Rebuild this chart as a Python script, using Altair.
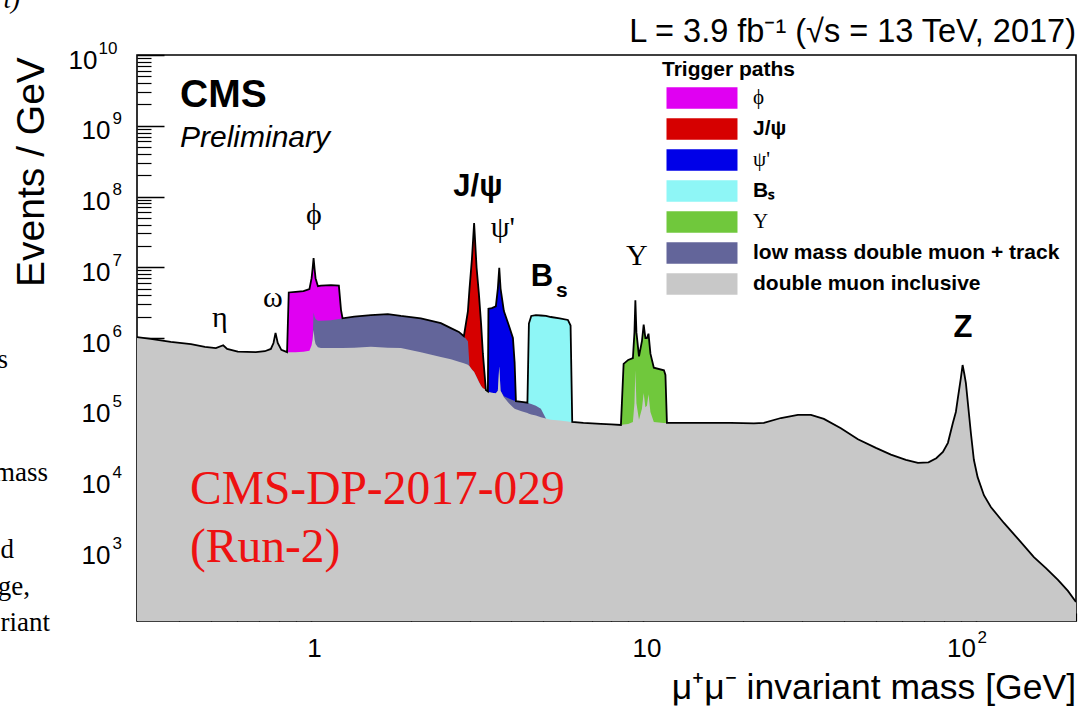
import altair as alt
import pandas as pd

# ---------------------------------------------------------------------------
# Dimuon invariant mass spectrum, split by trigger path
# ---------------------------------------------------------------------------

# Inclusive double-muon spectrum: mass [GeV] and events / GeV
mass = [
    0.30, 0.33, 0.379, 0.436, 0.48, 0.518, 0.545, 0.56, 0.603, 0.683, 0.727, 0.758, 0.772, 0.783, 0.795, 0.815,
    0.848, 0.858, 0.90, 0.95, 0.99, 1.005, 1.012, 1.019, 1.026, 1.033, 1.05, 1.072, 1.149, 1.214, 1.232, 1.245,
    1.35, 1.515, 1.704, 1.865, 2.142, 2.46, 2.637, 2.787,
    2.885, 2.967, 3.0, 3.05, 3.097, 3.15, 3.2, 3.25, 3.291, 3.36,
    3.407, 3.42, 3.5, 3.6, 3.65, 3.686, 3.72, 3.806, 3.94, 4.052, 4.10, 4.137,
    4.3, 4.48, 4.526, 4.6, 4.75, 4.917, 5.092,
    5.271, 5.6, 5.929, 6.04, 6.11,
    6.6, 7.45, 8.0,
    8.56, 8.72, 9.0, 9.3, 9.40, 9.46, 9.53, 9.70, 9.90, 10.02, 10.14, 10.25, 10.36, 10.5, 10.75, 11.53, 11.65, 11.77,
    14.89, 18.33, 21.5, 23.03, 25.92, 29.15, 31.91, 34.9, 39.26, 44.18, 50.03, 55.51, 61.58, 66.94, 72.0, 76.0,
    79.58, 82.39, 85.25, 87.04, 88.1, 90.1, 91.2, 92.3, 93.3, 95.3, 96.6, 98.6, 101.2,
    105.7, 110.9, 121.4, 134.7, 149.4, 162.4, 176.5, 189.1, 200.0,
]
inclusive = [
    1.03e6, 9.7e5, 8.8e5, 8.2e5, 7.5e5, 7.2e5, 7.9e5, 7.0e5, 6.4e5, 6.3e5, 6.5e5, 7.0e5, 8.5e5, 1.18e6, 8.5e5, 6.8e5,
    6.3e5, 6.3e5, 6.3e5, 6.4e5, 6.6e5, 7.9e5, 9.5e5, 1.3e6, 9.5e5, 8.2e5, 7.4e5, 7.2e5, 7.2e5, 7.2e5, 7.2e5, 7.2e5,
    7.3e5, 7.5e5, 7.3e5, 7.2e5, 6.3e5, 5.4e5, 5.0e5, 4.6e5,
    4.4e5, 4.2e5, 4.0e5, 3.6e5, 3.3e5, 2.8e5, 2.4e5, 2.1e5, 1.95e5, 1.84e5,
    1.75e5, 1.72e5, 1.68e5, 1.65e5, 1.8e5, 4.0e5, 1.8e5, 1.45e5, 1.2e5, 1.05e5, 1.0e5, 9.8e4,
    9.2e4, 8.7e4, 8.5e4, 8.3e4, 8.0e4, 7.6e4, 7.3e4,
    7.0e4, 6.8e4, 6.6e4, 6.5e4, 6.5e4,
    6.3e4, 6.1e4, 6.0e4,
    5.9e4, 6.0e4, 6.1e4, 6.5e4, 1.2e5, 3.5e5, 1.2e5, 7.0e4, 1.0e5, 1.67e5, 1.05e5, 1.1e5, 1.6e5, 9.0e4, 6.5e4, 6.3e4, 6.3e4, 6.3e4,
    6.3e4, 6.3e4, 6.2e4, 6.3e4, 7.4e4, 8.2e4, 8.2e4, 7.2e4, 5.3e4, 3.7e4, 2.8e4, 2.25e4, 1.9e4, 1.72e4, 1.75e4, 2.0e4,
    2.45e4, 3.3e4, 6.3e4, 9.0e4, 1.33e5, 2.7e5, 4.15e5, 3.1e5, 2.3e5, 8.5e4, 4.5e4, 1.9e4, 1.08e4,
    6.0e3, 4.08e3, 2.43e3, 1.4e3, 8.0e2, 5.6e2, 3.8e2, 2.66e2, 1.86e2,
]

# Dedicated trigger paths (mass points are a subset of the inclusive grid)
phi_mass = [0.848, 0.858, 0.90, 0.95, 0.99, 1.005, 1.012, 1.019, 1.026, 1.033, 1.05, 1.072, 1.149, 1.214, 1.232, 1.245]
phi_events = [6.3e5, 4.4e6, 4.5e6, 4.6e6, 4.9e6, 7.0e6, 9.5e6, 1.35e7, 9.5e6, 7.0e6, 5.4e6, 5.5e6, 5.6e6, 5.5e6, 2.5e6, 1.9e6]

jpsi_mass = [2.885, 2.967, 3.0, 3.05, 3.097, 3.15, 3.2, 3.25, 3.291, 3.36]
jpsi_events = [1.06e6, 2.4e6, 5.0e6, 1.3e7, 4.2e7, 1.0e7, 4.3e6, 1.6e6, 6.0e5, 1.84e5]

psi2s_mass = [3.407, 3.42, 3.5, 3.6, 3.65, 3.686, 3.72, 3.806, 3.94, 4.052, 4.10, 4.137]
psi2s_events = [1.75e5, 2.6e6, 2.65e6, 2.8e6, 5.0e6, 9.8e6, 5.0e6, 2.4e6, 1.5e6, 1.0e6, 4.5e5, 1.28e5]

bs_mass = [4.48, 4.526, 4.6, 4.75, 4.917, 5.092, 5.271, 5.6, 5.929, 6.04, 6.11]
bs_events = [1.22e5, 1.6e6, 2.05e6, 2.1e6, 2.08e6, 2.05e6, 1.98e6, 1.9e6, 1.8e6, 1.5e6, 6.5e4]

upsilon_mass = [8.56, 8.72, 9.0, 9.3, 9.40, 9.46, 9.53, 9.70, 9.90, 10.02, 10.14, 10.25, 10.36, 10.5, 10.75, 11.53, 11.65, 11.77]
upsilon_events = [5.9e4, 4.3e5, 4.9e5, 5.2e5, 1.2e6, 3.4e6, 1.2e6, 5.5e5, 9.0e5, 1.55e6, 1.0e6, 1.0e6, 1.15e6, 6.0e5, 3.8e5, 3.5e5, 3.0e5, 6.3e4]

track_mass = [
    1.012, 1.019, 1.026, 1.033, 1.05, 1.072, 1.149, 1.214, 1.232, 1.245,
    1.35, 1.515, 1.704, 1.865, 2.142, 2.46, 2.637, 2.787, 2.885, 2.967,
    3.0, 3.05, 3.097, 3.15, 3.2, 3.25, 3.291, 3.36, 3.407, 3.42,
    3.5, 3.6, 3.65, 3.686, 3.72, 3.806, 3.94, 4.052, 4.10, 4.137,
    4.3, 4.48, 4.526, 4.6, 4.75, 4.917, 5.092,
]
track_events = [
    9.5e5, 2.3e6, 2.0e6, 1.85e6, 1.75e6, 1.75e6, 1.78e6, 1.85e6, 1.88e6, 1.9e6,
    2.0e6, 2.1e6, 2.18e6, 2.05e6, 1.9e6, 1.62e6, 1.38e6, 1.22e6, 1.06e6, 9.0e5,
    4.0e5, 3.6e5, 3.3e5, 2.8e5, 2.4e5, 2.1e5, 1.95e5, 1.84e5, 1.75e5, 1.72e5,
    1.68e5, 1.65e5, 1.8e5, 4.0e5, 1.8e5, 1.5e5, 1.4e5, 1.32e5, 1.3e5, 1.28e5,
    1.25e5, 1.22e5, 1.2e5, 1.17e5, 1.1e5, 1.0e5, 7.3e4,
]

# Legend entries, in drawing order (back to front)
path_names = ["ϕ", "J/ψ", "ψ'", "Bₛ", "Υ", "low mass double muon + track", "double muon inclusive"]
path_colors = ["#e000f2", "#d60000", "#0000e8", "#8ef6f6", "#70c83c", "#63659a", "#c8c8c8"]
path_data = [
    (phi_mass, phi_events),
    (jpsi_mass, jpsi_events),
    (psi2s_mass, psi2s_events),
    (bs_mass, bs_events),
    (upsilon_mass, upsilon_events),
    (track_mass, track_events),
    (mass, inclusive),
]

# Resonance labels placed in data coordinates
serif_names = ["η", "ω", "ϕ", "ψ'", "Υ"]
serif_mass = [0.532, 0.769, 1.021, 3.78, 9.56]
serif_events = [1.92e6, 3.68e6, 5.48e7, 3.59e7, 1.44e7]
bold_names = ["J/ψ", "B", "Z"]
bold_mass = [3.179, 4.95, 91.4]
bold_events = [1.36e8, 7.28e6, 1.38e6]
sub_names = ["s"]
sub_mass = [5.69]
sub_events = [4.62e6]

# Axis tick positions
y_major = [1e3, 1e4, 1e5, 1e6, 1e7, 1e8, 1e9, 1e10]
y_minor = [k * 10 ** e for e in range(2, 10) for k in range(2, 10)]
x_major = [1, 10, 100]
x_minor = [0.3, 0.4, 0.5, 0.6, 0.7, 0.8, 0.9, 2, 3, 4, 5, 6, 7, 8, 9,
           20, 30, 40, 50, 60, 70, 80, 90, 200]

# ---------------------------------------------------------------------------
SANS = "Liberation Sans"
SERIF = "Liberation Serif"
FLOOR = 100

x_scale = alt.Scale(type="log", domain=[0.3, 200], nice=False)
y_scale = alt.Scale(type="log", domain=[FLOOR, 1e10], nice=False)
color_scale = alt.Scale(domain=path_names, range=path_colors)

# Greek-letter entries use a plain serif face, the rest bold sans
greek_test = "datum.value == 'ϕ' || datum.value == 'Υ' || datum.value == \"ψ'\""
legend = alt.Legend(
    title="Trigger paths", orient="none", legendX=525, legendY=4, padding=0,
    titleFont=SANS, titleFontSize=21, titleFontWeight="bold", titleColor="black", titlePadding=6,
    labelFont={"expr": f"({greek_test}) ? '{SERIF}' : '{SANS}'"},
    labelFontWeight={"expr": f"({greek_test}) ? 'normal' : 'bold'"},
    labelFontSize=21, labelColor="black", labelLimit=500,
    # wide swatch: 71 x 21 px drawn from a unit-size of ~23.7 px
    symbolType="M-3,-0.9H3V0.9H-3Z", symbolSize=560, symbolStrokeWidth=0,
    symbolOpacity=1, symbolOffset=28, labelOffset=39, rowPadding=8,
)

ax_y_major = alt.Axis(
    orient="left", values=y_major, offset=-27, tickSize=27, tickWidth=1.5, tickColor="black",
    domain=False, grid=False, title=None, labelExpr="'10'",
    labelFont=SANS, labelFontSize=26, labelColor="black", labelAlign="right", labelBaseline="middle",
    labelOffset=5, labelPadding={"condition": {"test": "datum.value > 5e9", "value": 40}, "value": 27},
    labelOverlap=False, labelFlush=False, labelBound=False,
)
ax_y_minor = alt.Axis(
    orient="left", values=y_minor, offset=-14, tickSize=14, tickWidth=1.2, tickColor="black",
    domain=False, grid=False, title=None, labels=False,
)
ax_y_exp = alt.Axis(
    orient="left", values=y_major, ticks=False, tickSize=0, domain=False, grid=False, title=None,
    labelExpr="'' + round(log(datum.value) / LN10)",
    labelFont=SANS, labelFontSize=17, labelColor="black", labelAlign="left", labelBaseline="middle",
    labelOffset=-7, labelPadding={"condition": {"test": "datum.value > 5e9", "value": 39}, "value": 25},
    labelOverlap=False, labelFlush=False, labelBound=False,
)
ax_x_major = alt.Axis(
    orient="bottom", values=x_major, offset=-17, tickSize=17, tickWidth=1.5, tickColor="black",
    domain=False, grid=False, title=None, labelExpr="datum.value < 5 ? '1' : '10'",
    labelFont=SANS, labelFontSize=26, labelColor="black", labelAlign="center", labelBaseline="top",
    labelPadding=14, labelOffset={"condition": {"test": "datum.value > 50", "value": -15}, "value": 3},
    labelOverlap=False, labelFlush=False, labelBound=False,
)
ax_x_minor = alt.Axis(
    orient="bottom", values=x_minor, offset=-8, tickSize=8, tickWidth=1.2, tickColor="black",
    domain=False, grid=False, title=None, labels=False,
)
ax_x_exp = alt.Axis(
    orient="bottom", values=[100], ticks=False, tickSize=0, domain=False, grid=False, title=None,
    labelExpr="'2'", labelFont=SANS, labelFontSize=17, labelColor="black", labelAlign="left",
    labelBaseline="top", labelPadding=8, labelOffset=1,
    labelOverlap=False, labelFlush=False, labelBound=False,
)

layers = []

# Filled trigger-path areas, each from the floor of the plot
for name, (m, v) in zip(path_names, path_data):
    df = pd.DataFrame({"mass": m, "events": v, "path": name})
    is_incl = name == "double muon inclusive"
    layers.append(
        alt.Chart(df).mark_area(clip=True, opacity=1).encode(
            x=alt.X("mass:Q", scale=x_scale, axis=ax_x_major if is_incl else None),
            y=alt.Y("events:Q", scale=y_scale, axis=ax_y_major if is_incl else None),
            y2=alt.datum(FLOOR),
            color=alt.Color("path:N", scale=color_scale, legend=legend),
        )
    )

# Black outline along the upper envelope of all paths
long = pd.concat(
    [pd.DataFrame({"mass": m, "events": v}) for m, v in path_data], ignore_index=True
)
envelope = long.groupby("mass", as_index=False)["events"].max().sort_values("mass")
layers.append(
    alt.Chart(envelope).mark_line(clip=True, color="black", strokeWidth=1.8).encode(
        x=alt.X("mass:Q", scale=x_scale, axis=ax_x_minor),
        y=alt.Y("events:Q", scale=y_scale, axis=ax_y_minor),
    )
)

# Resonance labels
layers.append(
    alt.Chart(pd.DataFrame({"mass": serif_mass, "events": serif_events, "label": serif_names}))
    .mark_text(font=SERIF, fontSize=30, color="black", align="center", baseline="middle")
    .encode(
        x=alt.X("mass:Q", scale=x_scale, axis=ax_x_exp),
        y=alt.Y("events:Q", scale=y_scale, axis=ax_y_exp),
        text="label:N",
    )
)
layers.append(
    alt.Chart(pd.DataFrame({"mass": bold_mass, "events": bold_events, "label": bold_names}))
    .mark_text(font=SANS, fontSize=31, fontWeight="bold", color="black", align="center", baseline="middle")
    .encode(
        x=alt.X("mass:Q", scale=x_scale, axis=None),
        y=alt.Y("events:Q", scale=y_scale, axis=None),
        text="label:N",
    )
)
layers.append(
    alt.Chart(pd.DataFrame({"mass": sub_mass, "events": sub_events, "label": sub_names}))
    .mark_text(font=SANS, fontSize=21, fontWeight="bold", color="black", align="center", baseline="middle")
    .encode(
        x=alt.X("mass:Q", scale=x_scale, axis=None),
        y=alt.Y("events:Q", scale=y_scale, axis=None),
        text="label:N",
    )
)


def note(text, x, y, **style):
    """Free-standing text placed in pixel space relative to the plot area."""
    return alt.Chart(pd.DataFrame({"t": [text]})).mark_text(**style).encode(
        x=alt.value(x), y=alt.value(y), text="t:N"
    )


layers += [
    note("CMS", 43, 40, font=SANS, fontSize=39, fontWeight="bold", align="left", baseline="middle", color="black"),
    note("Preliminary", 43, 83, font=SANS, fontSize=30, fontStyle="italic", align="left", baseline="middle", color="black"),
    note("L = 3.9 fb⁻¹ (√s = 13 TeV, 2017)", 939, -23, font=SANS, fontSize=32.5, align="right", baseline="middle", color="black"),
    note("Events / GeV", -105, 117, font=SANS, fontSize=39, angle=270, align="center", baseline="middle", color="black"),
    note("μ⁺μ⁻ invariant mass [GeV]", 939, 633, font=SANS, fontSize=35.5, align="right", baseline="middle", color="black"),
    note("CMS-DP-2017-029", 53, 435, font=SERIF, fontSize=47.5, align="left", baseline="middle", color="#ee1111"),
    note("(Run-2)", 53, 493, font=SERIF, fontSize=47.5, align="left", baseline="middle", color="#ee1111"),
    # surrounding page text
    note("t)", -117, -47, font=SERIF, fontSize=27, fontStyle="italic", align="right", baseline="alphabetic", color="black"),
    note("s", -129, 305, font=SERIF, fontSize=27, align="right", baseline="middle", color="black"),
    note("mass", -89, 418, font=SERIF, fontSize=27, align="right", baseline="middle", color="black"),
    note("d", -123, 495, font=SERIF, fontSize=27, align="right", baseline="middle", color="black"),
    note("ge,", -107, 532, font=SERIF, fontSize=27, align="right", baseline="middle", color="black"),
    note("riant", -87, 568, font=SERIF, fontSize=27, align="right", baseline="middle", color="black"),
]

chart = (
    alt.layer(*layers)
    .resolve_axis(x="independent", y="independent")
    .properties(
        width=939,
        height=566,
        padding={"left": 137, "top": 55, "right": 2, "bottom": 86},
        autosize=alt.AutoSizeParams(type="none"),
        background="white",
    )
    .configure_view(stroke="black", strokeWidth=1.6)
)

chart.save("out.html", embed_options={"renderer": "svg", "actions": False})
